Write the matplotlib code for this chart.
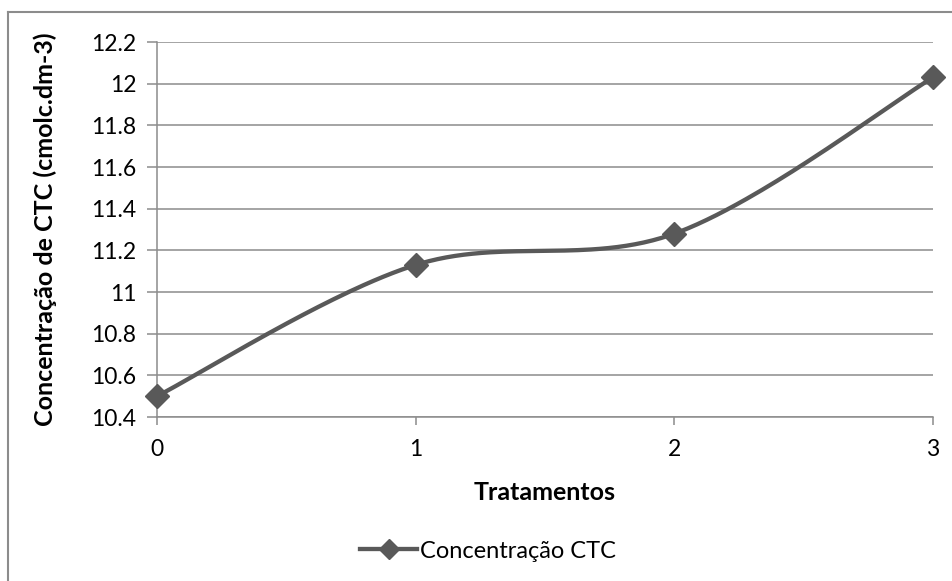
import numpy as np
import matplotlib
matplotlib.use("Agg")
import matplotlib.pyplot as plt
from matplotlib.lines import Line2D

plt.rcParams['font.family'] = ['Lato', 'DejaVu Sans']

tratamentos = [0, 1, 2, 3]
concentracao = [10.5, 11.13, 11.28, 12.03]
y_ticks = [10.4, 10.6, 10.8, 11.0, 11.2, 11.4, 11.6, 11.8, 12.0, 12.2]
y_tick_labels = ['10.4', '10.6', '10.8', '11', '11.2', '11.4', '11.6', '11.8', '12', '12.2']
x_ticks = [0, 1, 2, 3]
series_name = 'Concentração CTC'

def excel_smooth(xs, ys, n=60):
    P = np.column_stack([xs, ys]).astype(float)
    m = len(P)
    out = []
    for i in range(m - 1):
        p0 = P[i - 1] if i > 0 else P[i]
        p1, p2 = P[i], P[i + 1]
        p3 = P[i + 2] if i + 2 < m else P[i + 1]
        c1 = p1 + (p2 - p0) / 6.0
        c2 = p2 - (p3 - p1) / 6.0
        t = np.linspace(0, 1, n)[:, None]
        seg = ((1 - t) ** 3) * p1 + 3 * ((1 - t) ** 2) * t * c1 + 3 * (1 - t) * t ** 2 * c2 + t ** 3 * p2
        out.append(seg if i == 0 else seg[1:])
    s = np.vstack(out)
    return s[:, 0], s[:, 1]

W, H = 953, 581
fig = plt.figure(figsize=(W / 100, H / 100), dpi=100)
ax = fig.add_axes([157 / W, 1 - 417 / H, (933 - 157) / W, (417 - 42) / H])

color = '#595959'
grid_c = '#8c8c8c'

sx, sy = excel_smooth(tratamentos, concentracao)
ax.plot(sx, sy, color=color, lw=3.1, solid_capstyle='round', zorder=3, clip_on=False)
ax.plot(tratamentos, concentracao, linestyle='none', marker='D', markersize=12.5,
        color=color, zorder=4, clip_on=False)

ax.set_xlim(0, 3)
ax.set_ylim(10.4, 12.2)
ax.set_yticks(y_ticks)
ax.set_yticklabels(y_tick_labels)
ax.set_xticks(x_ticks)
for yv in y_ticks:
    ax.axhline(yv, color=grid_c, lw=1.1, zorder=1)

for s in ['top', 'right']:
    ax.spines[s].set_visible(False)
ax.spines['left'].set_color(grid_c)
ax.spines['bottom'].set_color(grid_c)
ax.spines['left'].set_linewidth(1.1)
ax.spines['bottom'].set_linewidth(1.1)
ax.tick_params(axis='y', length=7, width=1.1, color=grid_c, labelsize=16.5, pad=8)
ax.tick_params(axis='x', length=6, width=1.1, color=grid_c, labelsize=16.5, pad=10)

fig.text(545 / W, 1 - 492 / H, 'Tratamentos', ha='center', va='center',
         fontsize=18, fontweight='bold')
fig.text(45 / W, 1 - 229 / H, 'Concentração de CTC (cmolc.dm-3)', ha='center', va='center',
         rotation=90, fontsize=18, fontweight='bold')

handle = Line2D([0], [0], color=color, lw=3.1, marker='D', markersize=10)
fig.legend([handle], [series_name], loc='center', bbox_to_anchor=(488 / W, 1 - 551 / H),
           frameon=False, fontsize=17, handlelength=2.4, handletextpad=0.1)

# chart border (left and top visible)
fig.add_artist(Line2D([8 / W, 8 / W], [0, 1 - 12 / H], transform=fig.transFigure,
                      color='#8c8c8c', lw=1.5))
fig.add_artist(Line2D([8 / W, 1], [1 - 12 / H, 1 - 12 / H], transform=fig.transFigure,
                      color='#8c8c8c', lw=1.5))

fig.savefig('out.png', dpi=100)
